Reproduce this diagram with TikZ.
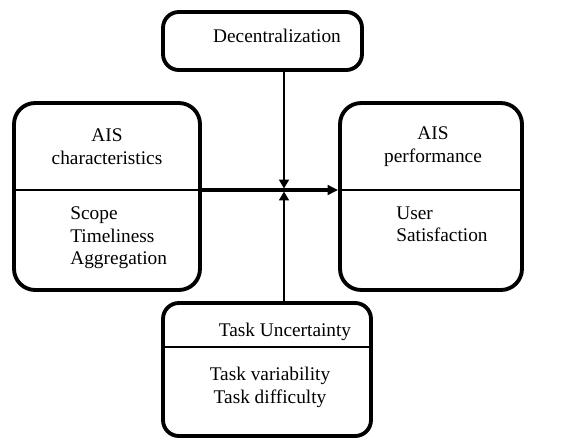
\documentclass[tikz,border=0pt]{standalone}
\usepackage{fontspec}
\setmainfont{Liberation Serif}
\usepackage{tikz}
\usetikzlibrary{positioning,arrows.meta,calc}
\tikzset{
  frame/.style={draw,line width=2.2pt,rounded corners=9pt,inner sep=0pt},
  bigframe/.style={frame,rounded corners=12pt},
  txt/.style={align=center,inner sep=0pt,font=\fontsize{11}{13}\selectfont},
  list/.style={align=left,inner sep=0pt,anchor=north west,font=\fontsize{11}{13}\selectfont},
  divider/.style={line width=0.8pt},
  arr/.style={-{Triangle[length=6pt,width=5.5pt]},line width=2pt},
  varr/.style={-{Triangle[length=5pt,width=5.5pt]},line width=1.2pt},
}

\begin{document}
\begin{tikzpicture}[x=0.02cm,y=-0.02cm]
\useasboundingbox (0,0) rectangle (573,437);
% boxes
\node[frame, minimum width=3.98cm, minimum height=1.16cm] (dec) at (262.5,41) {};
\node[bigframe, minimum width=3.72cm, minimum height=3.74cm] (aisc) at (107,196.5) {};
\node[bigframe, minimum width=3.64cm, minimum height=3.74cm] (aisp) at (431,196.5) {};
\node[frame, minimum width=4.16cm, minimum height=2.66cm] (task) at (267,369.5) {};

% dividers
\coordinate (cross) at (284,190);
\coordinate (tdiv) at (267,347);
\draw[divider] (aisc.west |- cross) -- (aisc.east |- cross);
\draw[divider] (aisp.west |- cross) -- (aisp.east |- cross);
\draw[divider] (task.west |- tdiv) -- (task.east |- tdiv);

% labels
\node[txt] (dect) at (277,36) {Decentralization};
\node[txt] (aisct) at (107,147) {AIS\\characteristics};
\node[list] (aiscl) at (70,206) {Scope\\Timeliness\\Aggregation};
\node[txt] (aispt) at (433,147) {AIS\\performance};
\node[list] (aispl) at (396,206) {User\\Satisfaction};
\node[txt] (taskt) at (285,332) {Task Uncertainty};
\node[txt] (taskl) at (270,387) {Task variability\\Task difficulty};

% arrows
\coordinate (top) at (284,188.5);
\coordinate (bot) at (284,191.5);
\draw[arr] (aisc.east |- cross) -- (aisp.west |- cross);
\draw[varr] (dec.south -| cross) -- (top);
\draw[varr] (task.north -| cross) -- (bot);

\end{tikzpicture}
\end{document}
